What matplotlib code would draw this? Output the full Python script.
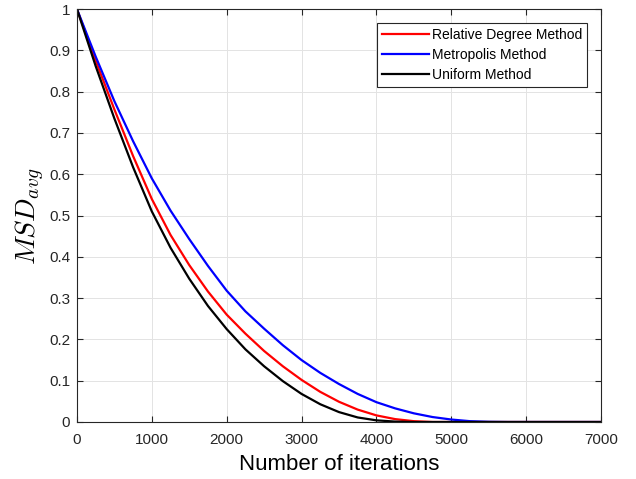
import numpy as np
import matplotlib
matplotlib.use("Agg")
import matplotlib.pyplot as plt
from matplotlib.ticker import FormatStrFormatter

# iterations (read every 250)
iterations = np.arange(0, 7001, 250)

# MSD_avg values
relative_degree = [1.000, 0.875, 0.757, 0.644, 0.540, 0.453, 0.380, 0.316, 0.260,
                   0.214, 0.172, 0.135, 0.102, 0.073, 0.049, 0.030, 0.016, 0.007,
                   0.002, 0.000, 0.000, 0.000, 0.000, 0.000, 0.000, 0.000, 0.000,
                   0.000, 0.000]
metropolis = [1.000, 0.885, 0.777, 0.680, 0.590, 0.512, 0.443, 0.378, 0.318,
              0.268, 0.226, 0.186, 0.150, 0.119, 0.092, 0.068, 0.048, 0.033,
              0.021, 0.012, 0.006, 0.002, 0.0005, 0.000, 0.000, 0.000, 0.000,
              0.000, 0.000]
uniform = [1.000, 0.862, 0.735, 0.617, 0.510, 0.422, 0.347, 0.281, 0.225,
           0.176, 0.135, 0.099, 0.068, 0.043, 0.024, 0.011, 0.004, 0.001,
           0.000, 0.000, 0.000, 0.000, 0.000, 0.000, 0.000, 0.000, 0.000,
           0.000, 0.000]

plt.rcParams["font.family"] = ["Liberation Sans", "DejaVu Sans"]
plt.rcParams["mathtext.fontset"] = "cm"

fig = plt.figure(figsize=(6.36, 4.79), dpi=100)
ax = fig.add_axes([0.121, 0.119, 0.824, 0.862])

ax.plot(iterations, relative_degree, color="#ff0000", lw=1.6, label="Relative Degree Method")
ax.plot(iterations, metropolis, color="#0000ff", lw=1.6, label="Metropolis Method")
ax.plot(iterations, uniform, color="#000000", lw=1.6, label="Uniform Method")

ax.set_xlim(0, 7000)
ax.set_ylim(0, 1)
ax.set_xticks(np.arange(0, 7001, 1000))
ax.set_yticks(np.arange(0, 1.01, 0.1))
ax.yaxis.set_major_formatter(FormatStrFormatter("%g"))
ax.grid(True, color="#e3e3e3", lw=0.7)
ax.set_axisbelow(True)

ax.tick_params(direction="in", top=True, right=True, length=4, width=0.8,
               colors="#262626", labelsize=11)
ax.tick_params(axis="x", pad=8)
ax.tick_params(axis="y", pad=5)
for sp in ax.spines.values():
    sp.set_color("#262626")
    sp.set_linewidth(0.8)

ax.set_xlabel("Number of iterations", fontsize=16, color="#000000", labelpad=5)
ax.set_ylabel(r"$MSD_{avg}$", fontsize=20, labelpad=1)

leg = ax.legend(loc="upper right", fontsize=10, handlelength=3.4, labelspacing=0.45,
                borderaxespad=1.0, fancybox=False, framealpha=1, edgecolor="#262626",
                handletextpad=0.2, borderpad=0.35)
leg.get_frame().set_linewidth(0.8)

fig.savefig("out.png", dpi=100)
